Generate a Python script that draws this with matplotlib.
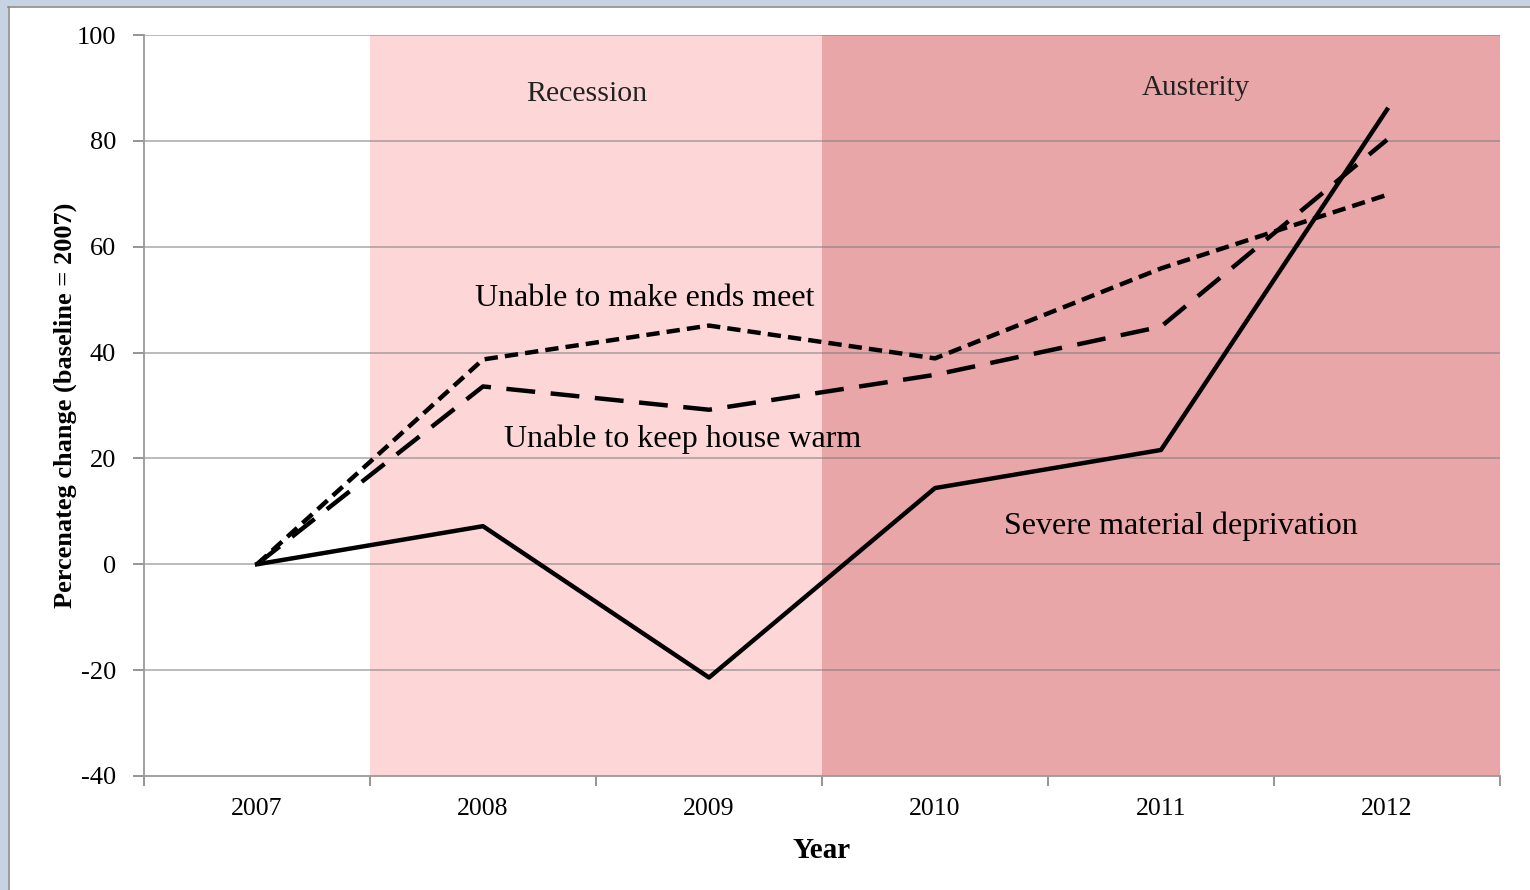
import matplotlib.pyplot as plt
from matplotlib.patches import Rectangle

# Datos
anios = ['2007', '2008', '2009', '2010', '2011', '2012']
privacion_severa = [0, 7.2, -21.4, 14.4, 21.6, 85.9]
fin_de_mes = [0, 38.7, 45.1, 38.9, 55.9, 69.8]
casa_caliente = [0, 33.6, 29.2, 35.8, 44.9, 80.2]
y_ticks = [-40, -20, 0, 20, 40, 60, 80, 100]

plt.rcParams['font.family'] = ['Liberation Serif', 'DejaVu Serif']

fig = plt.figure(figsize=(15.3, 8.9), dpi=100)
fig.patch.set_facecolor('white')

# Marco de la ventana (franja superior e izquierda)
fig.patches.append(Rectangle((0, 1 - 6 / 890), 1, 6 / 890, transform=fig.transFigure,
                             facecolor='#c5d3e2', edgecolor='none', zorder=0))
fig.patches.append(Rectangle((0, 0), 8 / 1530, 1, transform=fig.transFigure,
                             facecolor='#c5d3e2', edgecolor='none', zorder=0))
fig.lines.append(plt.Line2D([8 / 1530, 1], [1 - 7 / 890, 1 - 7 / 890], transform=fig.transFigure,
                            color='#8a8a8a', lw=1.2))
fig.lines.append(plt.Line2D([9 / 1530, 9 / 1530], [0, 1 - 7 / 890], transform=fig.transFigure,
                            color='#8a8a8a', lw=1.2))

ax = fig.add_axes([144 / 1530, 1 - 776 / 890, (1500 - 144) / 1530, (776 - 35) / 890])
x = list(range(len(anios)))

# Zonas sombreadas
ax.axvspan(0.5, 2.5, color='#fdd7d8', zorder=0, lw=0)
ax.axvspan(2.5, 5.5, color='#e8a6a8', zorder=0, lw=0)

# Rejilla
for t in y_ticks[1:]:
    ax.axhline(t, color='#7a7a7a', lw=1.3, alpha=0.55, zorder=1)

ax.plot(x, privacion_severa, color='black', lw=3.2, zorder=3)
ax.plot(x, fin_de_mes, color='black', lw=3.2, dashes=(3, 1.6), zorder=3)
ax.plot(x, casa_caliente, color='black', lw=3.2, dashes=(6.5, 3.5), zorder=3)

ax.set_xlim(-0.5, 5.5)
ax.set_ylim(-40, 100)
ax.set_yticks(y_ticks)
ax.set_yticklabels([str(t) for t in y_ticks], fontsize=19)

# Marcas del eje X entre categorías (estilo Excel)
ax.set_xticks(x)
ax.set_xticklabels(anios, fontsize=18.5)
ax.tick_params(axis='x', which='major', length=0, pad=16)
ax.set_xticks([i + 0.5 for i in range(-1, 6)], minor=True)
ax.tick_params(axis='x', which='minor', length=7, color='#8c8c8c', width=1.3)
ax.tick_params(axis='y', length=8, color='#8c8c8c', width=1.3, pad=12)

for s in ['top', 'right']:
    ax.spines[s].set_visible(False)
for s in ['left', 'bottom']:
    ax.spines[s].set_color('#9a9a9a')
    ax.spines[s].set_linewidth(1.3)

ax.set_xlabel('Year', fontsize=21, fontweight='bold', labelpad=12)
ax.set_ylabel('Percenateg change (baseline = 2007)', fontsize=19, fontweight='bold', labelpad=0)

# Etiquetas
ax.text(1.46, 88.9, 'Recession', fontsize=21.5, ha='center', va='center', color='#222222')
ax.text(4.155, 90, 'Austerity', fontsize=21, ha='center', va='center', color='#222222')
ax.text(1.717, 50.2, 'Unable to make ends meet', fontsize=23, ha='center', va='center')
ax.text(1.885, 23.7, 'Unable to keep house warm', fontsize=23, ha='center', va='center')
ax.text(4.09, 7.2, 'Severe material deprivation', fontsize=23, ha='center', va='center')

fig.savefig('out.png', dpi=100)
